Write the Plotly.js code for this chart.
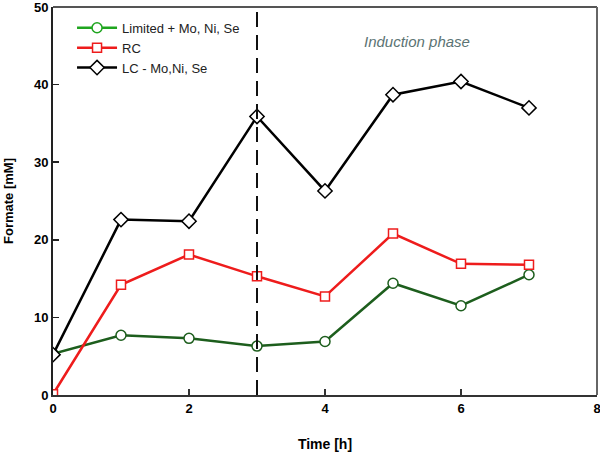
<!DOCTYPE html>
<html><head><meta charset="utf-8">
<script src="https://cdn.plot.ly/plotly-3.0.1.min.js"></script>
<style>body{margin:0;background:#fff}#c{width:600px;height:452px}</style>
</head><body><div id="c"></div>
<script>
const time = [0,1,2,3,4,5,6,7];
const limitedPlus = [5.3,7.7,7.3,6.3,6.9,14.4,11.5,15.5];
const rc = [0.1,14.2,18.1,15.3,12.7,20.8,16.9,16.8];
const lcMinus = [5.2,22.6,22.4,35.9,26.3,38.7,40.4,37.0];
const seriesNames = ['Limited + Mo, Ni, Se','RC','LC - Mo,Ni, Se'];
const xTicks = [0,2,4,6,8];
const yTicks = [0,10,20,30,40,50];
const inductionStart = 3;

const font = 'Liberation Sans, Arial, sans-serif';
const traces = [
  {x: time, y: limitedPlus, mode:'lines+markers', showlegend:false,
   line:{color:'#1d5e1d', width:2.5},
   marker:{symbol:'circle', size:10, color:'#fff', line:{color:'#1d5e1d', width:1.5}}},
  {x: time, y: rc, mode:'lines+markers', showlegend:false,
   line:{color:'#ee1c1c', width:2.5},
   marker:{symbol:'square', size:9, color:'#fff', line:{color:'#ee1c1c', width:1.5}}},
  {x: time, y: lcMinus, mode:'lines+markers', showlegend:false,
   line:{color:'#000', width:2.5},
   marker:{symbol:'diamond', size:11, color:'#fff', line:{color:'#000', width:1.5}}},
  {x:[null], y:[null], name: seriesNames[0], mode:'lines+markers',
   line:{color:'#1fa51f', width:2.5},
   marker:{symbol:'circle', size:10, color:'#fff', line:{color:'#1fa51f', width:1.5}}},
  {x:[null], y:[null], name: seriesNames[1], mode:'lines+markers',
   line:{color:'#ee1c1c', width:2.5},
   marker:{symbol:'square', size:9, color:'#fff', line:{color:'#ee1c1c', width:1.5}}},
  {x:[null], y:[null], name: seriesNames[2], mode:'lines+markers',
   line:{color:'#000', width:2.5},
   marker:{symbol:'diamond', size:11, color:'#fff', line:{color:'#000', width:1.5}}}
];
const layout = {
  width:600, height:452,
  margin:{l:53, r:3, t:7, b:57},
  paper_bgcolor:'#fff', plot_bgcolor:'#fff',
  font:{family:font, size:12, color:'#000'},
  showlegend:true,
  legend:{x:0.035, y:0.985, xanchor:'left', yanchor:'top', bgcolor:'rgba(0,0,0,0)',
          font:{family:font, size:13, color:'#222'}, itemwidth:40, tracegroupgap:0},
  xaxis:{range:[0,8], tickvals:xTicks, ticktext:xTicks.map(String), ticklabeloverflow:'allow',
         showgrid:false, zeroline:false, showline:true, linecolor:'#333', linewidth:2,
         ticks:'inside', ticklen:6, tickwidth:1.5, tickcolor:'#333',
         tickfont:{family:font, size:13, color:'#000', weight:'bold'},
         title:{text:'Time [h]', font:{family:font, size:14, weight:'bold'}, standoff:25}},
  yaxis:{range:[0,50], tickvals:yTicks, ticktext:yTicks.map(String), ticklabeloverflow:'allow',
         showgrid:false, zeroline:false, showline:true, linecolor:'#222', linewidth:2,
         ticks:'inside', ticklen:6, tickwidth:1.5, tickcolor:'#222',
         tickfont:{family:font, size:13, color:'#000', weight:'bold'},
         title:{text:'Formate [mM]', font:{family:font, size:13, weight:'bold'}, standoff:17}},
  shapes:[
    {type:'line', xref:'x', yref:'y', x0:inductionStart, x1:inductionStart, y0:0, y1:50,
     line:{color:'#111', width:2, dash:'15px,8px'}},
    {type:'line', xref:'paper', yref:'paper', x0:0, x1:1, y0:1, y1:1, line:{color:'#555', width:2}},
    {type:'line', xref:'paper', yref:'paper', x0:1, x1:1, y0:0, y1:1, line:{color:'#666', width:2}}
  ],
  annotations:[
    {xref:'x', yref:'y', x:5.35, y:45.6, text:'<i>Induction phase</i>', showarrow:false,
     font:{family:font, size:15, color:'#5b7373'}}
  ]
};
Plotly.newPlot('c', traces, layout, {displayModeBar:false, staticPlot:true});
</script></body></html>
